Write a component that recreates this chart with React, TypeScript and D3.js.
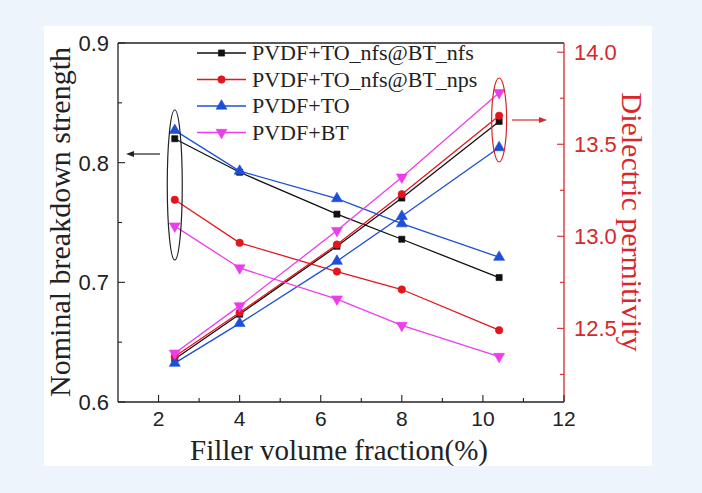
import React from "react";
import * as d3 from "d3";

const xValues = [2.4, 4, 6.4, 8, 10.4];
const seriesNames = ["PVDF+TO_nfs@BT_nfs", "PVDF+TO_nfs@BT_nps", "PVDF+TO", "PVDF+BT"];
const breakdownNfsNfs = [0.820, 0.792, 0.757, 0.736, 0.704];
const breakdownNfsNps = [0.769, 0.733, 0.709, 0.694, 0.660];
const breakdownTO = [0.827, 0.793, 0.770, 0.749, 0.721];
const breakdownBT = [0.747, 0.712, 0.686, 0.664, 0.638];
const permNfsNfs = [12.334, 12.577, 12.946, 13.208, 13.624];
const permNfsNps = [12.347, 12.586, 12.955, 13.229, 13.655];
const permTO = [12.311, 12.527, 12.865, 13.109, 13.482];
const permBT = [12.365, 12.622, 13.031, 13.321, 13.780];
const xTicks = [2, 4, 6, 8, 10, 12];
const xMinorTicks = [3, 5, 7, 9, 11];
const leftTicks = [0.6, 0.7, 0.8, 0.9];
const leftMinorTicks = [0.65, 0.75, 0.85];
const rightTicks = [12.5, 13.0, 13.5, 14.0];
const rightMinorTicks = [12.25, 12.75, 13.25, 13.75];

const colors = ["#111111", "#e3161d", "#1d4fd8", "#ec3ded"];
const shapes = ["square", "circle", "up", "down"];
const breakdownData = [breakdownNfsNfs, breakdownNfsNps, breakdownTO, breakdownBT];
const permData = [permNfsNfs, permNfsNps, permTO, permBT];

const W = 702, H = 493;
const L = 118, R = 564, T = 43, B = 402;
const axisRed = "#d8262c";

function Marker({ shape, x, y, color }: { shape: string; x: number; y: number; color: string }) {
  let type: any = d3.symbolSquare, size = 38, rot = 0;
  if (shape === "circle") { type = d3.symbolCircle; size = 44; }
  if (shape === "up") { type = d3.symbolTriangle; size = 52; }
  if (shape === "down") { type = d3.symbolTriangle; size = 52; rot = 180; }
  const p = d3.symbol().type(type).size(size)() as string;
  return <path d={p} transform={`translate(${x},${y}) rotate(${rot})`} fill={color} stroke={color} strokeWidth={0.6} />;
}

export default function App() {
  const x = d3.scaleLinear().domain([1, 12]).range([L, R]);
  const yL = d3.scaleLinear().domain([0.6, 0.9]).range([B, T]);
  const yR = d3.scaleLinear().domain([12.1, 14.05]).range([B, T]);
  const lineL = d3.line<number>().x((_, i) => x(xValues[i])).y((d) => yL(d));
  const lineR = d3.line<number>().x((_, i) => x(xValues[i])).y((d) => yR(d));
  const tickFont = "'Liberation Sans', Arial, sans-serif";
  const serif = "'Liberation Serif', 'Times New Roman', serif";

  return (
    <svg width={W} height={H} style={{ position: "absolute", left: 0, top: 0 }}>
      <rect x={0} y={0} width={W} height={H} fill="#edf4fb" />
      <rect x={44} y={26} width={608} height={440} fill="#ffffff" />

      {/* series */}
      {seriesNames.map((name, s) => (
        <g key={name}>
          <path d={lineL(breakdownData[s]) as string} fill="none" stroke={colors[s]} strokeWidth={1.3} />
          <path d={lineR(permData[s]) as string} fill="none" stroke={colors[s]} strokeWidth={1.3} />
          {breakdownData[s].map((v, i) => (
            <Marker key={"b" + i} shape={shapes[s]} x={x(xValues[i])} y={yL(v)} color={colors[s]} />
          ))}
          {permData[s].map((v, i) => (
            <Marker key={"p" + i} shape={shapes[s]} x={x(xValues[i])} y={yR(v)} color={colors[s]} />
          ))}
        </g>
      ))}

      {/* annotations */}
      <ellipse cx={x(xValues[0])} cy={185} rx={7.5} ry={75} fill="none" stroke="#222" strokeWidth={1.2} />
      <line x1={160} y1={154} x2={132} y2={154} stroke="#222" strokeWidth={1.2} />
      <path d="M126,154 L134,151 L134,157 Z" fill="#222" />
      <ellipse cx={x(xValues[4])} cy={120} rx={7.5} ry={42} fill="none" stroke={axisRed} strokeWidth={1.2} />
      <line x1={512} y1={120} x2={540} y2={120} stroke={axisRed} strokeWidth={1.2} />
      <path d="M547,120 L539,117 L539,123 Z" fill={axisRed} />

      {/* frame */}
      <line x1={L} y1={T} x2={R} y2={T} stroke="#222" strokeWidth={1.3} />
      <line x1={L} y1={T} x2={L} y2={B} stroke="#222" strokeWidth={1.3} />
      <line x1={L} y1={B} x2={R} y2={B} stroke="#222" strokeWidth={1.3} />
      <line x1={R} y1={T} x2={R} y2={B} stroke={axisRed} strokeWidth={1.3} />

      {/* x ticks */}
      {xTicks.map((t) => (
        <g key={"x" + t}>
          <line x1={x(t)} x2={x(t)} y1={B} y2={B - 7} stroke="#222" strokeWidth={1.1} />
          <text x={x(t)} y={426} textAnchor="middle" fontFamily={tickFont} fontSize={21} fill="#222">{t}</text>
        </g>
      ))}
      {xMinorTicks.map((t) => (
        <line key={"xm" + t} x1={x(t)} x2={x(t)} y1={B} y2={B - 4} stroke="#222" strokeWidth={1.1} />
      ))}

      {/* left ticks */}
      {leftTicks.map((t) => (
        <g key={"l" + t}>
          <line x1={L} x2={L + 7} y1={yL(t)} y2={yL(t)} stroke="#222" strokeWidth={1.1} />
          <text x={109} y={yL(t) + 8} textAnchor="end" fontFamily={tickFont} fontSize={22} fill="#222">{t.toFixed(1)}</text>
        </g>
      ))}
      {leftMinorTicks.map((t) => (
        <line key={"lm" + t} x1={L} x2={L + 4} y1={yL(t)} y2={yL(t)} stroke="#222" strokeWidth={1.1} />
      ))}

      {/* right ticks */}
      {rightTicks.map((t) => (
        <g key={"r" + t}>
          <line x1={R} x2={R - 7} y1={yR(t)} y2={yR(t)} stroke={axisRed} strokeWidth={1.1} />
          <text x={574} y={yR(t) + 8} textAnchor="start" fontFamily={tickFont} fontSize={22} fill={axisRed}>{t.toFixed(1)}</text>
        </g>
      ))}
      {rightMinorTicks.map((t) => (
        <line key={"rm" + t} x1={R} x2={R - 4} y1={yR(t)} y2={yR(t)} stroke={axisRed} strokeWidth={1.1} />
      ))}

      {/* axis titles */}
      <text x={339} y={460} textAnchor="middle" fontFamily={serif} fontSize={29} fill="#222">Filler volume fraction(%)</text>
      <text transform="translate(70,222) rotate(-90)" textAnchor="middle" fontFamily={serif} fontSize={30} fill="#222">Nominal breakdown strength</text>
      <text transform="translate(622,222) rotate(90)" textAnchor="middle" fontFamily={serif} fontSize={30} fill={axisRed}>Dielectric permitivity</text>

      {/* legend */}
      {seriesNames.map((name, s) => {
        const yy = 53 + s * 26.5;
        return (
          <g key={"lg" + s}>
            <line x1={197} x2={246} y1={yy} y2={yy} stroke={colors[s]} strokeWidth={1.3} />
            <Marker shape={shapes[s]} x={221.5} y={yy} color={colors[s]} />
            <text x={252} y={yy + 7} fontFamily={serif} fontSize={22} fill="#222">{name}</text>
          </g>
        );
      })}
    </svg>
  );
}
